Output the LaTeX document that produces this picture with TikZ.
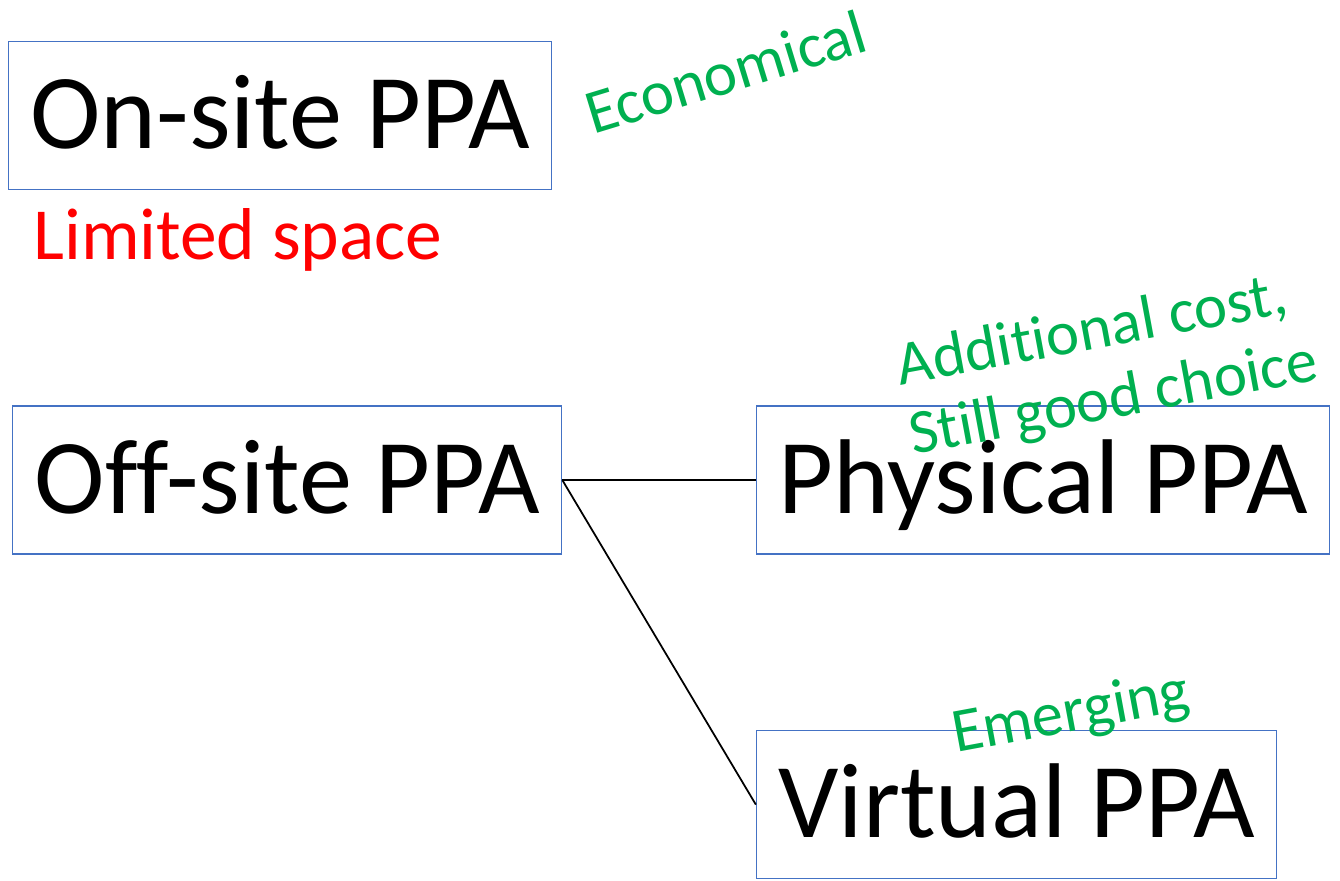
\documentclass[tikz,border=0pt]{standalone}
\usepackage{fontspec}
\setmainfont{Carlito}[Ligatures=NoCommon]
\usepackage{xcolor}
\usetikzlibrary{positioning}
\definecolor{boxblue}{RGB}{68,114,196}
\definecolor{notegreen}{RGB}{0,176,80}
\definecolor{notered}{RGB}{255,0,0}
\tikzset{
    ppa/.style={
        rectangle,
        draw=boxblue,
        line width=0.85pt,
        minimum height=2.96cm,
        inner sep=0pt,
        text height=1.33cm,
        text depth=0pt,
        text centered,
        font=\fontsize{60.5}{72}\selectfont
    },
    link/.style={
        draw=black,
        line width=1pt
    },
    pro/.style={
        text=notegreen,
        inner sep=0pt,
        anchor=base west,
        align=left,
        font=\fontsize{35.7}{40.4}\selectfont
    },
    con/.style={
        text=notered,
        inner sep=0pt,
        anchor=base west,
        font=\fontsize{41.8}{50}\selectfont
    }
}
\begin{document}
\begin{tikzpicture}[x=0.02cm, y=-0.02cm]
    \useasboundingbox (0,0) rectangle (1340,880);
    \node[ppa, minimum width=10.86cm, anchor=north west] (onsite) at (8,41) {On-site PPA};
    \node[ppa, minimum width=10.98cm, below=4.3cm of onsite.south west, anchor=north west, xshift=0.08cm] (offsite) {Off-site PPA};
    \node[ppa, minimum width=11.46cm, right=3.87cm of offsite] (physical) {Physical PPA};
    \node[ppa, minimum width=10.4cm, below=3.5cm of physical.south west, anchor=north west] (virtual) {Virtual PPA};

    % Connectors
    \draw[link] (offsite.east) -- (physical.west);
    \draw[link] (offsite.east) -- (virtual.west);

    % Annotations
    \node[pro, rotate=17] (econ) at (593,135) {Economical};
    \node[con] (space) at (33,259) {Limited space};
    \node[pro, rotate=10.5] (cost) at (913,455) {Additional cost,\\Still good choice};
    \node[pro, rotate=10.5] (emerge) at (956,753) {Emerging};
\end{tikzpicture}
\end{document}
